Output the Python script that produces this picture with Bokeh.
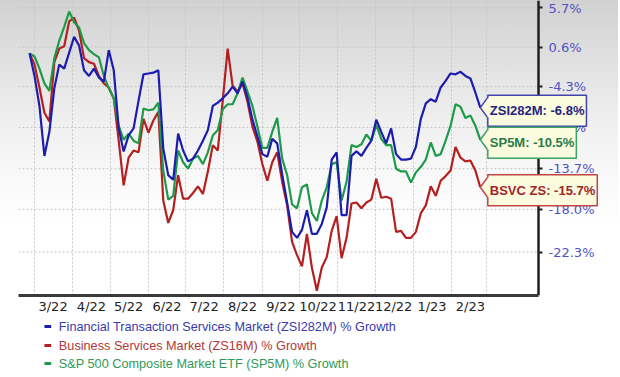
import math
import numpy as np
import pandas as pd
from bokeh.plotting import figure
from bokeh.layouts import column
from bokeh.models import (Range1d, FixedTicker, CustomJSTickFormatter, Label, LogAxis)
from bokeh.core.properties import value
from bokeh.embed import file_html
from bokeh.resources import INLINE

# ---------------- data (percent growth) ----------------
dates = pd.date_range("2022-02-25", periods=92, freq="4D")

blue = [-0.2, -3.0, -6.6, -12.3, -9.6, -4.5, -1.6, -2.1, -0.1, 1.9,
        0.8, -2.3, -3.0, -2.1, -3.2, -3.7, 0.2, -2.3, -9.2, -11.8,
        -10.0, -9.2, -6.0, -2.8, -2.7, -2.6, -2.3, -11.5, -14.4, -14.9,
        -9.8, -11.7, -12.9, -12.6, -11.7, -10.6, -9.4, -6.6, -6.2, -5.7,
        -5.1, -4.3, -5.1, -3.7, -5.6, -8.2, -10.1, -12.1, -12.4, -10.4,
        -10.9, -14.3, -17.3, -20.3, -20.9, -20.1, -18.1, -20.5, -20.5, -19.5,
        -17.8, -12.7, -11.9, -18.6, -18.6, -12.3, -11.8, -12.3, -11.4, -10.6,
        -8.2, -9.6, -10.9, -9.2, -12.1, -12.7, -12.7, -12.6, -11.3, -8.1,
        -6.3, -5.8, -6.1, -4.4, -3.6, -2.7, -2.8, -2.5, -3.0, -3.3,
        -5.0, -6.8]

green = [-0.2, -0.6, -2.1, -3.9, -4.8, -0.8, 1.4, 3.2, 5.2, 3.8,
         3.1, 1.1, 0.2, -0.3, -0.7, -3.0, -4.5, -5.7, -8.9, -10.5,
         -9.8, -10.6, -10.9, -6.9, -7.1, -7.0, -6.2, -13.9, -17.0, -16.6,
         -11.7, -13.0, -13.7, -12.6, -12.3, -13.2, -11.9, -10.0, -9.4, -7.0,
         -6.4, -6.4, -5.1, -3.2, -4.9, -6.6, -9.0, -11.4, -11.4, -9.6,
         -8.0, -12.6, -14.4, -17.5, -17.9, -15.7, -15.4, -18.4, -19.2, -17.1,
         -15.7, -13.2, -13.0, -17.1, -15.1, -11.1, -11.3, -11.0, -9.9, -10.6,
         -8.8, -10.4, -11.1, -11.1, -13.7, -14.0, -14.0, -15.2, -14.1, -13.5,
         -12.7, -10.8, -12.3, -12.1, -10.6, -8.9, -6.4, -6.7, -8.0, -7.7,
         -8.9, -10.5]

red = [-0.2, -1.6, -4.4, -7.4, -8.4, -1.3, 0.4, 0.7, 3.9, 4.4,
       2.7, -0.8, -1.3, -1.5, -3.0, -3.9, -4.4, -5.7, -10.6, -15.5,
       -12.5, -11.7, -11.9, -8.1, -9.7, -8.3, -7.3, -17.1, -19.4, -18.1,
       -14.4, -16.9, -16.9, -16.3, -15.6, -16.4, -14.0, -11.1, -11.7, -6.0,
       0.4, -4.2, -4.9, -3.9, -6.1, -9.0, -10.7, -13.2, -15.0, -13.0,
       -11.9, -15.1, -17.6, -21.3, -22.6, -23.7, -20.5, -23.8, -26.0, -23.8,
       -22.8, -20.2, -18.7, -22.9, -20.9, -17.4, -17.3, -17.9, -17.3, -17.0,
       -14.8, -16.8, -16.7, -16.9, -20.3, -20.2, -20.9, -20.9, -20.3, -18.4,
       -17.6, -15.6, -16.6, -15.0, -14.5, -13.9, -11.3, -12.5, -12.9, -12.8,
       -13.9, -15.7]

y_tick_pct = [5.7, 0.6, -4.3, -9.1, -13.7, -18.0, -22.3]

legend_labels = ["Financial Transaction Services Market (ZSI282M) % Growth",
                 "Business Services Market (ZS16M) % Growth",
                 "S&P 500 Composite Market ETF (SP5M) % Growth"]
callout_names = ["ZSI282M", "BSVC ZS", "SP5M"]

# ---------------- styling ----------------
LINE_COL = {"blue": "#1c1cae", "red": "#b41f1f", "green": "#1f9a4a"}
LEG_COL = {"blue": "#3a3aab", "red": "#b03838", "green": "#2e9a58"}
BOX_LINE = {"blue": "#4343b0", "red": "#c24646", "green": "#3ba363"}
BOX_TEXT = {"blue": "#25257e", "red": "#9e2727", "green": "#2a7b46"}
BOX_FILL = "#fbfbe0"
GRID_COL = "#c6c6c6"

FRAME_W, FRAME_H = 594, 295          # frame spans x 18..612, y 0..295
PX_PER_DAY = 520 / 419.92            # month spacing measured on the chart
x_start = pd.Timestamp("2022-02-16 02:00")
x_end = x_start + pd.Timedelta(days=FRAME_W / PX_PER_DAY)
t_axis = x_start + pd.Timedelta(days=520 / PX_PER_DAY)   # right value axis (x=538)
t_lab = x_start + pd.Timedelta(days=570 / PX_PER_DAY)    # anchor of its labels
y_start, y_end = 0.73556, 1.06673

def ms(ts):
    return pd.Timestamp(ts).value / 1e6

p = figure(frame_width=FRAME_W, frame_height=FRAME_H, x_axis_type="datetime",
           y_axis_type="log", y_axis_location="right",
           x_range=Range1d(x_start, x_end), y_range=Range1d(y_start, y_end),
           output_backend="svg", toolbar_location=None,
           min_border_left=18, min_border_right=6, min_border_top=0,
           min_border_bottom=20)
p.background_fill_color = None
p.border_fill_color = None
p.outline_line_color = None
p.styles = {"background-image":
            "linear-gradient(to bottom, #d1d1d1 0px, #dfdfdf 55px, #ededed 110px, "
            "#f7f7f7 165px, #ffffff 225px)"}

# vertical grid at month starts
month_starts = pd.date_range("2022-03-01", periods=13, freq="MS")
month_mids = month_starts[:12] + pd.Timedelta(days=15)
p.xgrid.ticker = FixedTicker(ticks=[ms(t) for t in month_starts])
p.xgrid.grid_line_color = GRID_COL
p.xgrid.grid_line_dash = "2 2"
p.ygrid.visible = False
# horizontal grid stops at the value axis
y_ticks = [1 + v / 100 for v in y_tick_pct]
p.segment(x0=[ms(x_start)] * len(y_ticks), x1=[ms(t_axis)] * len(y_ticks),
          y0=y_ticks, y1=y_ticks, line_color=GRID_COL, line_dash="2 2",
          line_width=1, level="underlay")

# x axis
xa = p.xaxis[0]
xa.ticker = FixedTicker(ticks=[ms(t) for t in month_mids])
xa.formatter = CustomJSTickFormatter(code="""
const d = new Date(tick);
return (d.getUTCMonth() + 1) + '/' + String(d.getUTCFullYear()).slice(2);
""")
xa.bounds = (ms(x_start), ms(t_axis))
xa.axis_line_width = 3
xa.axis_line_color = "#3a3a3a"
xa.major_tick_out = 0
xa.major_tick_in = 0
xa.minor_tick_out = 0
xa.minor_tick_in = 0
xa.major_label_text_font = "DejaVu Sans"
xa.major_label_text_font_size = "13px"
xa.major_label_text_color = "#222222"
xa.major_label_standoff = 3

# y axis: line + ticks at x=538
ya = p.yaxis[0]
ya.fixed_location = ms(t_axis)
ya.ticker = FixedTicker(ticks=y_ticks)
ya.formatter = CustomJSTickFormatter(code="return '';")
ya.axis_line_width = 2.5
ya.axis_line_color = "#202020"
ya.major_tick_out = 4
ya.major_tick_in = 0
ya.major_tick_line_width = 2
ya.major_tick_line_color = "#202020"
ya.minor_tick_out = 0
ya.minor_tick_in = 0
ya.major_label_standoff = 0

# y axis labels (same ticks), anchored so the text starts at x=548
yl = LogAxis(ticker=FixedTicker(ticks=y_ticks),
             formatter=CustomJSTickFormatter(code="return ((tick - 1) * 100).toFixed(1) + '%';"),
             fixed_location=ms(t_lab), axis_line_color=None,
             major_tick_out=0, major_tick_in=0, minor_tick_out=0, minor_tick_in=0,
             major_label_standoff=-40, major_label_text_font="DejaVu Sans",
             major_label_text_font_size="13px", major_label_text_color="#5151c4")
p.add_layout(yl, "right")

# lines
series = {"blue": blue, "red": red, "green": green}
for key in ("red", "green", "blue"):
    vals = 1 + np.array(series[key]) / 100.0
    p.line(dates, vals, line_color=LINE_COL[key], line_width=2.2)

# callouts
px_per_ln = FRAME_H / math.log(y_end / y_start)
t_end = ms(dates[-1])
day_ms = 86400000.0
for key, name in zip(("blue", "red", "green"), callout_names):
    last = series[key][-1]
    v = 1 + last / 100.0
    h = math.exp(9.5 / px_per_ln)
    x_edge = t_end + (7.0 / PX_PER_DAY) * day_ms
    x_fill = t_end + (8.8 / PX_PER_DAY) * day_ms
    lab = Label(x=t_end, y=v, x_offset=7.5, y_offset=-3, text=f"{name}: {last:.1f}%",
                text_baseline="middle", text_align="left",
                text_font="Liberation Sans", text_font_style="bold",
                text_font_size="13px", text_color=BOX_TEXT[key],
                background_fill_color=BOX_FILL, border_line_color=BOX_LINE[key],
                border_line_width=1.5, padding=(2, 8))
    p.add_layout(lab)
    p.patch([t_end, x_edge, x_fill, x_fill, x_edge], [v, v * h, v * h, v / h, v / h],
            fill_color=BOX_FILL, line_alpha=0, level="overlay")
    p.line([x_edge, t_end, x_edge], [v * h, v, v / h], line_color=BOX_LINE[key],
           line_width=1.5, level="overlay")

# legend strip below the chart (pixel-like coordinates, y downwards)
lg = figure(width=620, height=62, x_range=Range1d(0, 620), y_range=Range1d(62, 0),
            output_backend="svg", toolbar_location=None,
            x_axis_location=None, y_axis_location=None,
            min_border_left=0, min_border_right=0, min_border_top=0, min_border_bottom=0)
lg.grid.visible = False
lg.outline_line_color = None
rows = [10, 29, 47]
keys = ["blue", "red", "green"]
lg.segment(x0=[27] * 3, x1=[34] * 3, y0=rows, y1=rows,
           line_color=[LINE_COL[k] for k in keys], line_width=3)
lg.text(x=[42] * 3, y=rows, text=legend_labels, text_baseline="middle", text_align="left",
        text_font=value("Liberation Sans"), text_font_size="12.7px",
        text_color=[LEG_COL[k] for k in keys])

layout = column(p, lg, spacing=0)
open("out.html", "w").write(file_html(layout, INLINE))
